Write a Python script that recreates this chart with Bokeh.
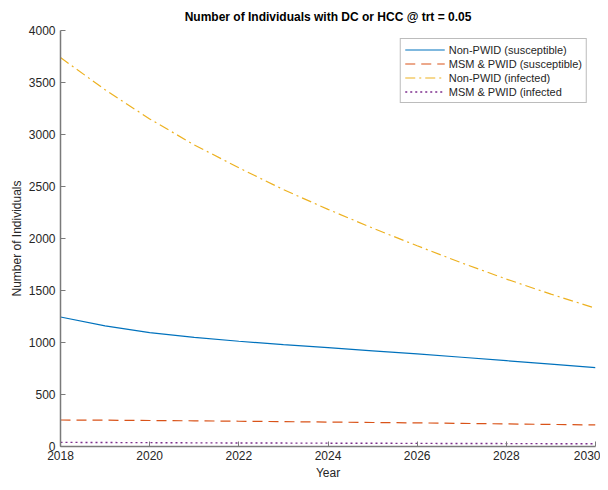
from bokeh.plotting import figure
from bokeh.models import Range1d, Legend, LegendItem, FixedTicker
from bokeh.embed import file_html
from bokeh.resources import INLINE

years = [2018, 2019, 2020, 2021, 2022, 2023, 2024, 2025, 2026, 2027, 2028, 2029, 2030]
nonpwid_susc = [1245, 1160, 1095, 1050, 1012, 980, 950, 920, 890, 858, 825, 792, 758]
msm_pwid_susc = [255, 253, 250, 247, 243, 239, 235, 231, 227, 222, 217, 212, 207]
nonpwid_inf = [3740, 3430, 3150, 2900, 2680, 2470, 2280, 2100, 1930, 1765, 1610, 1465, 1330]
msm_pwid_inf = [40, 38, 37, 35, 34, 33, 32, 31, 30, 29, 28, 27, 26]

labels = ["Non-PWID (susceptible)", "MSM & PWID (susceptible)", "Non-PWID (infected)", "MSM & PWID (infected"]
x_ticks = [2018, 2020, 2022, 2024, 2026, 2028, 2030]
y_ticks = [0, 500, 1000, 1500, 2000, 2500, 3000, 3500, 4000]

FONT = "Liberation Sans"
TXT = "#262626"
AX = "#7a7a7a"

p = figure(width=600, height=482, output_backend="svg", toolbar_location=None,
           x_range=Range1d(2018, 2030), y_range=Range1d(0, 4000),
           min_border_left=60, min_border_right=5, min_border_top=30, min_border_bottom=34,
           title="Number of Individuals with DC or HCC @ trt = 0.05")
p.outline_line_color = None
p.grid.grid_line_color = None
p.background_fill_color = "white"
p.border_fill_color = "white"

p.title.text_font = FONT
p.title.text_font_size = "12px"
p.title.text_font_style = "bold"
p.title.align = "center"
p.title.text_color = "black"
p.title.vertical_align = "top"

p.xaxis.ticker = FixedTicker(ticks=x_ticks)
p.yaxis.ticker = FixedTicker(ticks=y_ticks)
p.xaxis.axis_label = "Year"
p.yaxis.axis_label = "Number of Individuals"
for ax in (p.xaxis, p.yaxis):
    ax.axis_line_color = AX
    ax.axis_line_width = 1.5
    ax.major_tick_line_color = AX
    ax.major_tick_in = 5
    ax.major_tick_out = 0
    ax.minor_tick_line_color = None
    ax.major_label_text_font = FONT
    ax.major_label_text_font_size = "12px"
    ax.major_label_text_color = TXT
    ax.axis_label_text_font = FONT
    ax.axis_label_text_font_size = "12px"
    ax.axis_label_text_font_style = "normal"
    ax.axis_label_text_color = TXT
p.xaxis.major_label_standoff = 4
p.yaxis.major_label_standoff = 5
p.xaxis.axis_label_standoff = 3
p.yaxis.axis_label_standoff = 2

r1 = p.line(years, nonpwid_susc, line_color="#0072BD", line_width=1.2)
r2 = p.line(years, msm_pwid_susc, line_color="#D95319", line_width=1.2, line_dash="10 6")
r3 = p.line(years, nonpwid_inf, line_color="#EDB120", line_width=1.2, line_dash="10 4 2 4")
r4 = p.line(years, msm_pwid_inf, line_color="#7E2F8E", line_width=1.4, line_dash="2 3")

legend = Legend(items=[LegendItem(label=labels[0], renderers=[r1]),
                       LegendItem(label=labels[1], renderers=[r2]),
                       LegendItem(label=labels[2], renderers=[r3]),
                       LegendItem(label=labels[3], renderers=[r4])],
                location="top_right")
legend.margin = 8
legend.padding = 4
legend.spacing = 1
legend.glyph_width = 40
legend.glyph_height = 13
legend.label_height = 13
legend.label_standoff = 4
legend.label_text_font = FONT
legend.label_text_font_size = "11px"
legend.label_text_color = TXT
legend.border_line_color = "#7a7a7a"
legend.border_line_width = 1.5
legend.background_fill_alpha = 1
p.add_layout(legend, "center")

open("out.html", "w").write(file_html(p, INLINE))
